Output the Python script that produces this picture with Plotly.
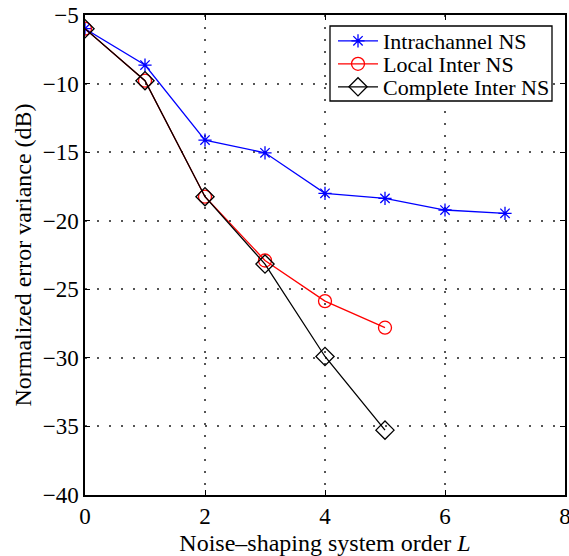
import plotly.graph_objects as go

x_intra = [0, 1, 2, 3, 4, 5, 6, 7]
y_intra = [-6.0, -8.65, -14.12, -15.05, -18.0, -18.37, -19.22, -19.46]
x_local = [0, 1, 2, 3, 4, 5]
y_local = [-6.0, -9.79, -18.25, -22.9, -25.86, -27.8]
x_comp = [0, 1, 2, 3, 4, 5]
y_comp = [-6.0, -9.79, -18.25, -23.16, -29.9, -35.27]

names = ["Intrachannel NS", "Local Inter NS", "Complete Inter NS"]
x_ticks = [0, 2, 4, 6, 8]
y_ticks = [-40, -35, -30, -25, -20, -15, -10, -5]

font = "Liberation Serif, Times New Roman, serif"

fig = go.Figure()
fig.add_trace(go.Scatter(x=x_intra, y=y_intra, name=names[0], mode="lines+markers",
                         legend="legend", showlegend=True,
                         line=dict(color="#0000ff", width=1.3),
                         marker=dict(symbol="asterisk-open", size=11, color="#0000ff",
                                     line=dict(color="#0000ff", width=1.3))))
fig.add_trace(go.Scatter(x=x_local, y=y_local, name=names[1], mode="lines+markers",
                         legend="legend2", showlegend=True,
                         line=dict(color="#ff0000", width=1.3),
                         marker=dict(symbol="circle-open", size=13, color="#ff0000",
                                     line=dict(color="#ff0000", width=1.3))))
fig.add_trace(go.Scatter(x=x_comp, y=y_comp, name=names[2], mode="lines+markers",
                         legend="legend3", showlegend=True,
                         line=dict(color="#000000", width=1.3),
                         marker=dict(symbol="diamond-open", size=14, color="#000000",
                                     line=dict(color="#000000", width=1.3))))

axis_common = dict(showline=True, linecolor="black", linewidth=1.5, mirror="ticks",
                   ticks="inside", ticklen=5, tickcolor="black", tickwidth=1,
                   showgrid=True, gridcolor="#555555", griddash="2px,10px", gridwidth=1.5,
                   zeroline=False, automargin=False, ticklabeloverflow="allow",
                   tickfont=dict(family=font, size=23, color="black"))

fig.update_xaxes(range=[0, 8], tickvals=x_ticks,
                 title=dict(text="Noise–shaping system order <i>L</i>",
                            font=dict(family=font, size=24, color="black"), standoff=12),
                 **axis_common)
fig.update_yaxes(range=[-40, -5], tickvals=y_ticks,
                 title=dict(text="Normalized error variance (dB)",
                            font=dict(family=font, size=24, color="black"), standoff=4),
                 **axis_common)

# legend frame (pixel positions converted to paper coords of the 480x480 plot area)
px0, py0, pw, ph = 85, 15, 480, 480
def xp(px):
    return (px - px0) / pw
def yp(py):
    return (py0 + ph - py) / ph

fig.add_shape(type="rect", xref="paper", yref="paper",
              x0=xp(330), x1=xp(552), y0=yp(101), y1=yp(26),
              fillcolor="white", line=dict(color="black", width=1.3), layer="above")

leg_common = dict(xanchor="left", yanchor="middle", bgcolor="rgba(0,0,0,0)",
                  borderwidth=0, font=dict(family=font, size=22, color="black"),
                  itemwidth=40, tracegroupgap=0, visible=True)
fig.update_layout(width=569, height=556, margin=dict(l=85, r=4, t=15, b=61),
                  plot_bgcolor="white", paper_bgcolor="white", showlegend=True,
                  font=dict(family=font, color="black"),
                  legend=dict(x=xp(333), y=yp(41), **leg_common),
                  legend2=dict(x=xp(333), y=yp(64), **leg_common),
                  legend3=dict(x=xp(333), y=yp(87), **leg_common))

fig.write_html("out.html")
